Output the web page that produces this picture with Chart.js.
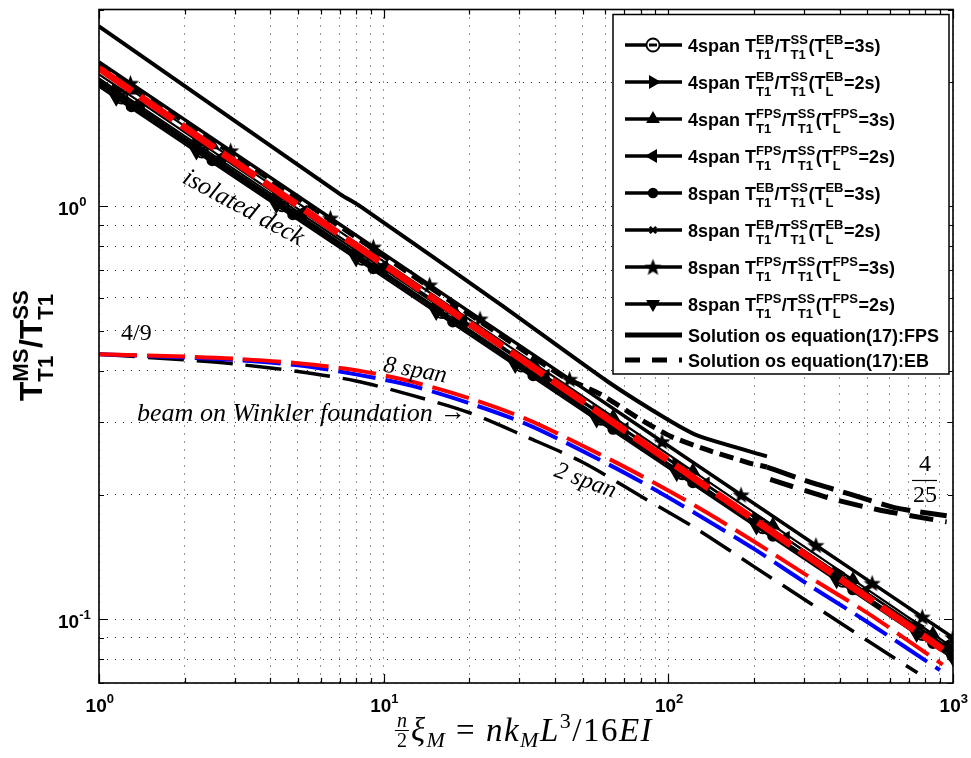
<!DOCTYPE html>
<html>
<head>
<meta charset="utf-8">
<script src="https://cdn.jsdelivr.net/npm/chart.js@4/dist/chart.umd.min.js"></script>
<style>
  html, body { margin: 0; padding: 0; background: #fff; }
  #wrap { width: 971px; height: 758px; }
</style>
</head>
<body>
<div id="wrap"><canvas id="c" width="971" height="758"></canvas></div>
<script>
// ---------- axes ----------
const X_TICKS = [1,2,3,4,5,6,7,8,9,10,20,30,40,50,60,70,80,90,100,200,300,400,500,600,700,800,900,1000];
const Y_TICKS = [0.07,0.08,0.09,0.1,0.2,0.3,0.4,0.5,0.6,0.7,0.8,0.9,1,2,3];
const X_LABEL_VALUES = [1, 10, 100, 1000];
const X_LABEL_EXPONENTS = ['0', '1', '2', '3'];
const Y_LABEL_VALUES = [0.1, 1];
const Y_LABEL_EXPONENTS = ['-1', '0'];

// ---------- stiffness parameter samples ----------
const xiA = [1, 1.3, 2.5, 4.8, 9.2, 17.5, 33.5, 64, 122, 233, 445, 850, 1000];
const xiB = [1, 1.15, 2.2, 4.2, 8.0, 15.3, 29, 56, 107, 204, 390, 745, 1000];
const xiC = [1, 1.2, 2.3, 4.4, 8.4, 16, 30.5, 58, 112, 215, 410, 780, 1000];
const xiD = [1, 1.29, 2.9, 6.5, 9.2, 14.5, 21.8, 45, 95, 180, 330, 520, 780, 1000];
const xiE = [1, 1.4, 2.7, 5.2, 10, 19, 37, 70, 135, 258, 490, 940, 1000];

// ---------- period ratios, isolated deck ----------
const span4_EB_3s  = [1.995, 1.834, 1.358, 1.006, 0.7464, 0.5542, 0.4114, 0.3057, 0.2256, 0.1669, 0.1238, 0.0920, 0.0820];
const span4_EB_2s  = [2.042, 1.914, 1.418, 1.052, 0.7810, 0.5790, 0.4309, 0.3179, 0.2358, 0.1750, 0.1297, 0.0962, 0.0839];
const span4_FPS_3s = [2.163, 1.913, 1.409, 1.038, 0.7653, 0.5666, 0.4181, 0.3088, 0.2284, 0.1687, 0.1246, 0.0920, 0.0853];
const span4_FPS_2s = [2.089, 1.786, 1.315, 0.9689, 0.7145, 0.5298, 0.3884, 0.2885, 0.2125, 0.1571, 0.1165, 0.0860, 0.0836];
const span8_EB_3s  = [1.972, 1.747, 1.292, 0.9556, 0.7074, 0.5255, 0.3894, 0.2887, 0.2144, 0.1590, 0.1179, 0.0874, 0.0811];
const span8_EB_2s  = [2.018, 1.855, 1.371, 1.015, 0.7518, 0.5576, 0.4133, 0.3067, 0.2260, 0.1670, 0.1238, 0.0918, 0.0818];
const span8_FPS_3s = [2.239, 1.989, 1.365, 0.9376, 0.7977, 0.6455, 0.5340, 0.3814, 0.2694, 0.2001, 0.1510, 0.1222, 0.1012, 0.0902];
const span8_FPS_2s = [1.950, 1.828, 1.354, 1.005, 0.7459, 0.5529, 0.4115, 0.3036, 0.2251, 0.1671, 0.1239, 0.0918, 0.0802];

const deckFitX = [1, 3, 10, 30, 100, 300, 920];
const deckFitY = [2.160, 1.282, 0.7235, 0.4294, 0.2424, 0.1438, 0.0845];

// ---------- solutions of equation (17) ----------
const solFpsX = [1, 7.05, 8.28, 25.7, 61.0, 99.1, 129, 222];
const solFpsY = [2.73, 1.07, 1.00, 0.579, 0.377, 0.305, 0.277, 0.248];
const solEbX  = [1, 3, 10, 41.7, 57.7, 79.6, 101.7, 134.8, 193.9, 222, 307, 435, 636, 950];
const solEbY  = [2.213, 1.328, 0.7586, 0.3905, 0.3507, 0.3050, 0.2774, 0.2580, 0.2385, 0.2334, 0.2158, 0.2008, 0.1857, 0.178];
const solEb2X = [228, 371, 546, 901, 950];
const solEb2Y = [0.218, 0.196, 0.184, 0.173, 0.172];

// ---------- beam on Winkler foundation ----------
const winklerX8 = [1, 2, 3, 5, 8, 12.6, 20, 31.6, 50, 79, 126, 200, 316, 500, 920];
const winkler8  = [0.4385, 0.4325, 0.4276, 0.4169, 0.4009, 0.3758, 0.3428, 0.3055, 0.2630, 0.2239, 0.1871, 0.1542, 0.1259, 0.1035, 0.0776];
const winklerX4 = [1, 2, 3, 5, 8, 12.6, 20, 31.6, 50, 79, 126, 200, 316, 500, 900];
const winkler4  = [0.4385, 0.4305, 0.4246, 0.4121, 0.3917, 0.3673, 0.3334, 0.2972, 0.2553, 0.2163, 0.1795, 0.1479, 0.1202, 0.0984, 0.0752];
const winklerX2 = [1, 2, 3, 5, 8, 12.6, 20, 31.6, 50, 79, 126, 200, 316, 500, 750];
const winkler2  = [0.4385, 0.4246, 0.4150, 0.3981, 0.3776, 0.3483, 0.3162, 0.2767, 0.2399, 0.1995, 0.1652, 0.1340, 0.1091, 0.0887, 0.0741];

// ---------- fonts ----------
const SANS = '"Liberation Sans", Arial, Helvetica, sans-serif';
const SERIF = '"Liberation Serif", "DejaVu Serif", serif';

function pairs(xs, ys) { return xs.map((x, i) => ({ x: x, y: ys[i] })); }

function makePentagram(size) {
  const c = document.createElement('canvas');
  c.width = size; c.height = size;
  const g = c.getContext('2d');
  const R = size / 2 - 0.5, r = R * 0.42, cx = size / 2, cy = size / 2 + 0.8;
  g.beginPath();
  for (let k = 0; k < 10; k++) {
    const ang = -Math.PI / 2 + k * Math.PI / 5;
    const rr = k % 2 ? r : R;
    g.lineTo(cx + rr * Math.cos(ang), cy + rr * Math.sin(ang));
  }
  g.closePath();
  g.fillStyle = '#000'; g.fill();
  return c;
}
const pentagram = makePentagram(19);

const hideFirst = (r) => (ctx) => (ctx.dataIndex === 0 ? 0 : r);

function markerSeries(label, xs, ys, marker) {
  return Object.assign({
    label: label, data: pairs(xs, ys), inLegend: true,
    borderColor: '#000', borderWidth: 2.2, tension: 0, fill: false, clip: 0,
    pointBorderColor: '#000', pointBackgroundColor: '#000', pointBorderWidth: 1.5,
    pointRadius: hideFirst(marker.r || 6), order: 5
  }, marker);
}

const datasets = [
  markerSeries('4span T^{EB}_{T1}/T^{SS}_{T1}(T^{EB}_{L}=3s)', xiC, span4_EB_3s,
    { pointStyle: 'circle', r: 6, pointBackgroundColor: 'rgba(0,0,0,0)', pointBorderWidth: 1.8 }),
  markerSeries('4span T^{EB}_{T1}/T^{SS}_{T1}(T^{EB}_{L}=2s)', xiB, span4_EB_2s,
    { pointStyle: 'triangle', r: 7, pointRotation: 90 }),
  markerSeries('4span T^{FPS}_{T1}/T^{SS}_{T1}(T^{FPS}_{L}=3s)', xiA, span4_FPS_3s,
    { pointStyle: 'triangle', r: 7, pointRotation: 0 }),
  markerSeries('4span T^{FPS}_{T1}/T^{SS}_{T1}(T^{FPS}_{L}=2s)', xiE, span4_FPS_2s,
    { pointStyle: 'triangle', r: 7, pointRotation: 270 }),
  markerSeries('8span T^{EB}_{T1}/T^{SS}_{T1}(T^{EB}_{L}=3s)', xiA, span8_EB_3s,
    { pointStyle: 'circle', r: 5 }),
  markerSeries('8span T^{EB}_{T1}/T^{SS}_{T1}(T^{EB}_{L}=2s)', xiC, span8_EB_2s,
    { pointStyle: 'crossRot', r: 4.5, pointBorderWidth: 2.6 }),
  markerSeries('8span T^{FPS}_{T1}/T^{SS}_{T1}(T^{FPS}_{L}=3s)', xiD, span8_FPS_3s,
    { pointStyle: pentagram, r: 8, borderWidth: 3.5 }),
  markerSeries('8span T^{FPS}_{T1}/T^{SS}_{T1}(T^{FPS}_{L}=2s)', xiB, span8_FPS_2s,
    { pointStyle: 'triangle', r: 7, pointRotation: 180 }),
  {
    label: 'Solution os equation(17):FPS', data: pairs(solFpsX, solFpsY), inLegend: true,
    borderColor: '#000', borderWidth: 4, pointRadius: 0, tension: 0.2, clip: 0, order: 6
  },
  {
    label: 'Solution os equation(17):EB', data: pairs(solEbX, solEbY), inLegend: true,
    borderColor: '#000', borderWidth: 5, borderDash: [14, 7], pointRadius: 0, tension: 0.2, clip: 0, order: 6,
    segment: { borderDash: (ctx) => (ctx.p0.parsed.x >= 222 ? [30, 10] : undefined) }
  },
  {
    label: 'Solution os equation(17):EB, upper branch', data: pairs(solEb2X, solEb2Y), inLegend: false,
    borderColor: '#000', borderWidth: 5, borderDash: [24, 12], pointRadius: 0, tension: 0.2, clip: 0, order: 6
  },
  {
    label: 'isolated deck fit', data: pairs(deckFitX, deckFitY), inLegend: false,
    borderColor: '#ff0000', borderWidth: 7, borderDash: [40, 10], pointRadius: 0, tension: 0, clip: 0, order: 1
  },
  {
    label: 'beam on Winkler foundation, 8 span', data: pairs(winklerX8, winkler8), inLegend: false,
    borderColor: '#ff0000', borderWidth: 4, borderDash: [38, 10], pointRadius: 0, tension: 0.3, clip: 0, order: 10
  },
  {
    label: 'beam on Winkler foundation, 4 span', data: pairs(winklerX4, winkler4), inLegend: false,
    borderColor: '#0000ff', borderWidth: 4, borderDash: [38, 10], pointRadius: 0, tension: 0.3, clip: 0, order: 11
  },
  {
    label: 'beam on Winkler foundation, 2 span', data: pairs(winklerX2, winkler2), inLegend: false,
    borderColor: '#000', borderWidth: 3.5, borderDash: [36, 13], pointRadius: 0, tension: 0.3, clip: 0, order: 12
  }
];

// ---------- text with super/subscripts: T^{EB}_{T1} ----------
function parseRich(str) {
  const out = []; let i = 0, buf = '';
  while (i < str.length) {
    const ch = str[i];
    if (ch === '^' || ch === '_') {
      if (buf) { out.push({ t: buf }); buf = ''; }
      const item = { sup: '', sub: '' };
      while (i < str.length && (str[i] === '^' || str[i] === '_')) {
        const kind = str[i]; i++;
        let g;
        if (str[i] === '{') { const j = str.indexOf('}', i); g = str.slice(i + 1, j); i = j + 1; }
        else { g = str[i]; i++; }
        if (kind === '^') item.sup = g; else item.sub = g;
      }
      out.push(item);
    } else { buf += ch; i++; }
  }
  if (buf) out.push({ t: buf });
  return out;
}

function drawRich(ctx, str, x, y, o) {
  const parts = parseRich(str);
  const main = `${o.weight || 'normal'} ${o.size}px ${o.family}`;
  const small = `${o.weight || 'normal'} ${o.script}px ${o.family}`;
  let cx = x;
  for (const p of parts) {
    if (p.t !== undefined) {
      ctx.font = main;
      if (!o.measure) ctx.fillText(p.t, cx, y);
      cx += ctx.measureText(p.t).width;
    } else {
      ctx.font = small;
      const w1 = p.sup ? ctx.measureText(p.sup).width : 0;
      const w2 = p.sub ? ctx.measureText(p.sub).width : 0;
      if (!o.measure) {
        if (p.sup) ctx.fillText(p.sup, cx, y + o.supDy);
        if (p.sub) ctx.fillText(p.sub, cx, y + o.subDy);
      }
      cx += Math.max(w1, w2) + 0.5;
    }
  }
  return cx - x;
}

function isDecade(v) { const l = Math.log10(v); return Math.abs(l - Math.round(l)) < 1e-9; }

// inward tick marks, box frame and decade labels
const framePlugin = {
  id: 'frame',
  afterDraw(chart) {
    const { ctx, chartArea: a, scales } = chart;
    const sx = scales.x, sy = scales.y;
    ctx.save();
    ctx.strokeStyle = '#000';
    ctx.lineWidth = 1.2;
    ctx.beginPath();
    X_TICKS.forEach(v => {
      const px = Math.round(sx.getPixelForValue(v)) + 0.5;
      const L = isDecade(v) ? 9 : 5;
      ctx.moveTo(px, a.bottom); ctx.lineTo(px, a.bottom - L);
      ctx.moveTo(px, a.top); ctx.lineTo(px, a.top + L);
    });
    Y_TICKS.forEach(v => {
      const py = Math.round(sy.getPixelForValue(v)) + 0.5;
      const L = isDecade(v) ? 9 : 5;
      ctx.moveTo(a.left, py); ctx.lineTo(a.left + L, py);
      ctx.moveTo(a.right, py); ctx.lineTo(a.right - L, py);
    });
    ctx.stroke();
    ctx.lineWidth = 1.6;
    ctx.strokeRect(a.left, a.top, a.right - a.left, a.bottom - a.top);

    // decade tick labels
    ctx.fillStyle = '#000';
    ctx.textBaseline = 'alphabetic';
    ctx.textAlign = 'left';
    const lab = { size: 19, script: 13, family: SANS, weight: 'bold', supDy: -9, subDy: 6 };
    X_LABEL_VALUES.forEach((v, i) => {
      const s = '10^{' + X_LABEL_EXPONENTS[i] + '}';
      const w = drawRich(ctx, s, 0, 0, Object.assign({ measure: true }, lab));
      const px = sx.getPixelForValue(v);
      drawRich(ctx, s, px - w / 2 + 1, a.bottom + 29, lab);
    });
    Y_LABEL_VALUES.forEach((v, i) => {
      const s = '10^{' + Y_LABEL_EXPONENTS[i] + '}';
      const py = sy.getPixelForValue(v);
      drawRich(ctx, s, a.left - 41, py + 9, lab);
    });
    ctx.restore();
  }
};

// key box with line samples and markers
const keyPlugin = {
  id: 'keyBox',
  afterDraw(chart) {
    const { ctx, chartArea: a } = chart;
    const items = chart.data.datasets.filter(d => d.inLegend);
    const right = a.right - 4, left = right - 336, top = a.top + 5;
    const rowH = items.map(d => (d.label.indexOf('^') >= 0 ? 37 : 25));
    let yy = top + 12;
    const centers = rowH.map(h => { const c = yy + h / 2; yy += h; return c; });
    const bottom = yy + 1.5;
    ctx.save();
    ctx.fillStyle = '#fff';
    ctx.fillRect(left, top, right - left, bottom - top);
    ctx.strokeStyle = '#000'; ctx.lineWidth = 1.5;
    ctx.strokeRect(left, top, right - left, bottom - top);
    const txt = { size: 18, script: 13, family: SANS, weight: 'bold', supDy: -8, subDy: 7 };
    items.forEach((d, i) => {
      const cy = centers[i];
      ctx.strokeStyle = '#000';
      ctx.lineWidth = d.pointRadius === 0 ? 5 : 3.5;
      ctx.setLineDash(d.borderDash ? [15, 12] : []);
      ctx.beginPath(); ctx.moveTo(left + 12, cy); ctx.lineTo(left + 69, cy); ctx.stroke();
      ctx.setLineDash([]);
      if (d.pointRadius !== 0) {
        const ps = d.pointStyle;
        const opts = { pointStyle: ps, rotation: d.pointRotation || 0, radius: (ps === 'circle' && d.pointBackgroundColor === '#000') ? 4.5 : (ps === 'crossRot' ? 4.5 : 6.5), borderWidth: d.pointBorderWidth };
        ctx.lineWidth = d.pointBorderWidth;
        ctx.strokeStyle = '#000';
        ctx.fillStyle = d.pointBackgroundColor;
        if (ps === 'circle' && d.pointBackgroundColor !== '#000') { ctx.fillStyle = '#fff'; }
        Chart.helpers.drawPoint(ctx, opts, left + 40, cy);
        if (ps === 'circle' && d.pointBackgroundColor !== '#000') {
          ctx.lineWidth = 3; ctx.beginPath(); ctx.moveTo(left + 36, cy); ctx.lineTo(left + 44, cy); ctx.stroke();
        }
      }
      ctx.fillStyle = '#000';
      ctx.textAlign = 'left'; ctx.textBaseline = 'alphabetic';
      drawRich(ctx, d.label, left + 75, cy + 6.5, txt);
    });
    ctx.restore();
  }
};

// axis titles and in-plot notes
function fitFont(ctx, text, style, family, targetW, guess) {
  ctx.font = `${style} ${guess}px ${family}`;
  const w = ctx.measureText(text).width;
  return guess * targetW / w;
}

const notesPlugin = {
  id: 'notes',
  afterDraw(chart) {
    const { ctx } = chart;
    ctx.save();
    ctx.fillStyle = '#000';
    ctx.strokeStyle = '#000';

    // y title, sized to span about 112 px
    const ytStr = 'T^{MS}_{T1}/T^{SS}_{T1}';
    const yt0 = { size: 20, script: 14, family: SANS, weight: 'bold', supDy: -9, subDy: 7, measure: true };
    const k = 112 / drawRich(ctx, ytStr, 0, 0, yt0);
    const yt = { size: 20 * k, script: 14 * k, family: SANS, weight: 'bold', supDy: -9 * k, subDy: 7 * k };
    ctx.save();
    ctx.translate(42, 345);
    ctx.rotate(-Math.PI / 2);
    ctx.textAlign = 'left'; ctx.textBaseline = 'alphabetic';
    drawRich(ctx, ytStr, -56, 0, yt);
    ctx.restore();

    // x title:  n/2 xi_M = n k_M L^3 / 16 E I, about 274 px wide
    const sz = 33, sm = 22;
    const it = (s) => `italic ${s}px ${SERIF}`;
    const up = (s) => `${s}px ${SERIF}`;
    const pieces = [
      { frac: true, w: 18, fs: 20 },
      { t: 'ξ', f: it(sz), dy: 0 }, { t: 'M', f: it(sm), dy: 6 },
      { t: ' = ', f: up(sz), dy: 0 },
      { t: 'nk', f: it(sz), dy: 0 }, { t: 'M', f: it(sm), dy: 6 },
      { t: 'L', f: it(sz), dy: 0 }, { t: '3', f: up(sm), dy: -13 },
      { t: '/16', f: up(sz), dy: 0 }, { t: 'EI', f: it(sz), dy: 0 }
    ];
    let natural = 0, glyphs = 0;
    pieces.forEach(p => {
      if (!p.frac) { ctx.letterSpacing = '0px'; ctx.font = p.f; p.w0 = ctx.measureText(p.t).width; natural += p.w0; glyphs += p.t.length; }
      else natural += p.w;
    });
    const spacing = Math.max(0, Math.min(1.5, (274 - natural) / glyphs));
    let total = 0;
    pieces.forEach(p => { if (!p.frac) p.w = p.w0 + spacing * p.t.length; total += p.w; });
    const base = 741;
    let cx = 523 - total / 2;
    ctx.textAlign = 'left'; ctx.textBaseline = 'alphabetic';
    pieces.forEach(p => {
      if (p.frac) {
        ctx.letterSpacing = '0px';
        ctx.textAlign = 'center';
        ctx.font = it(p.fs); ctx.fillText('n', cx + p.w / 2, base - 14);
        ctx.font = up(p.fs); ctx.fillText('2', cx + p.w / 2, base + 6);
        ctx.lineWidth = 1;
        ctx.beginPath(); ctx.moveTo(cx + 2, base - 10.5); ctx.lineTo(cx + p.w - 2, base - 10.5); ctx.stroke();
        ctx.textAlign = 'left';
      } else {
        ctx.letterSpacing = spacing.toFixed(2) + 'px';
        ctx.font = p.f; ctx.fillText(p.t, cx, base + p.dy);
      }
      cx += p.w;
    });
    ctx.letterSpacing = '0px';

    // in-plot notes
    const note = (text, x, y, deg, width, align) => {
      const s = fitFont(ctx, text, 'italic', SERIF, width, 24);
      ctx.save();
      ctx.translate(x, y); ctx.rotate(deg * Math.PI / 180);
      ctx.font = `italic ${s}px ${SERIF}`;
      ctx.textAlign = align || 'center'; ctx.textBaseline = 'alphabetic';
      ctx.fillText(text, 0, 0);
      ctx.restore();
    };
    note('isolated deck', 240, 214, 28.5, 134);
    note('8 span', 414, 377, 10, 64);
    note('2 span', 583, 487, 20, 64);
    note('beam on Winkler foundation', 137, 421, 0, 296, 'left');
    ctx.font = `26px ${SERIF}`;
    ctx.textAlign = 'left';
    ctx.fillText('→', 440, 420);

    // 4/9 and 4/25
    ctx.font = `24px ${SERIF}`;
    ctx.textAlign = 'left';
    ctx.fillText('4/9', 121, 340);
    ctx.textAlign = 'center';
    ctx.fillText('4', 925, 471);
    ctx.fillText('25', 925, 502);
    ctx.lineWidth = 1.2;
    ctx.beginPath(); ctx.moveTo(912, 480.5); ctx.lineTo(937, 480.5); ctx.stroke();
    ctx.restore();
  }
};

Chart.defaults.font.family = SANS;

new Chart(document.getElementById('c'), {
  type: 'line',
  data: { datasets: datasets },
  options: {
    responsive: false,
    devicePixelRatio: 1,
    animation: false,
    events: [],
    layout: { padding: { top: 8, right: 18, left: 0, bottom: 0 } },
    plugins: { legend: { display: false }, tooltip: { enabled: false }, title: { display: false } },
    scales: {
      x: {
        type: 'logarithmic', min: 1, max: 1000, position: 'bottom',
        afterBuildTicks: (s) => { s.ticks = X_TICKS.map(v => ({ value: v })); },
        afterFit: (s) => { s.height = 75; },
        ticks: { display: false },
        grid: { color: '#333', lineWidth: 1, drawTicks: false },
        border: { display: false, dash: [1, 7] }
      },
      y: {
        type: 'logarithmic', min: 0.07, max: 3, position: 'left',
        afterBuildTicks: (s) => { s.ticks = Y_TICKS.map(v => ({ value: v })); },
        afterFit: (s) => { s.width = 99; },
        ticks: { display: false },
        grid: { color: '#333', lineWidth: 1, drawTicks: false },
        border: { display: false, dash: [1, 7] }
      }
    }
  },
  plugins: [framePlugin, keyPlugin, notesPlugin]
});
</script>
</body>
</html>
